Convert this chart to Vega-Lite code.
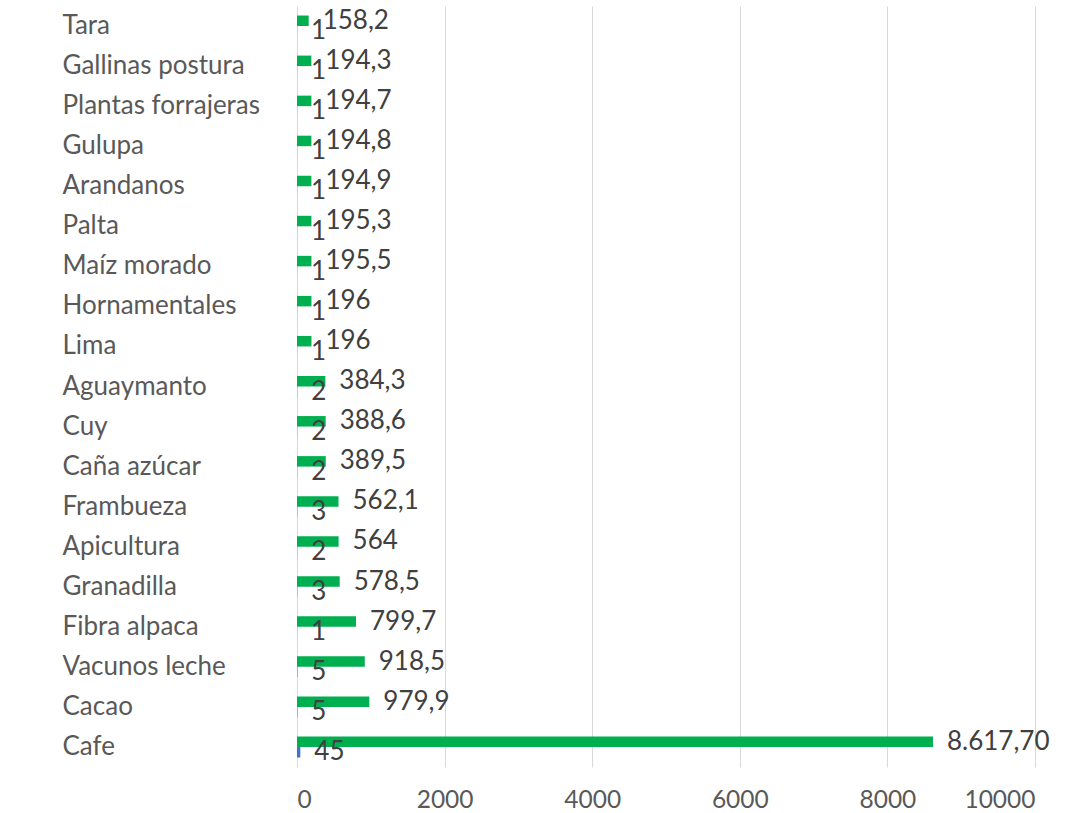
{
  "$schema": "https://vega.github.io/schema/vega-lite/v6.json",
  "width": 738,
  "height": 761,
  "autosize": {"type": "none"},
  "padding": {"left": 297, "top": 6, "right": 39, "bottom": 46},
  "config": {"view": {"stroke": null}, "font": "Lato"},
  "data": {
    "values": [
      {"cultivo": "Tara", "serie": "Monto", "valor": 158.2, "etiqueta": "158,2"},
      {"cultivo": "Tara", "serie": "Proyectos", "valor": 1, "etiqueta": "1"},
      {"cultivo": "Gallinas postura", "serie": "Monto", "valor": 194.3, "etiqueta": "194,3"},
      {"cultivo": "Gallinas postura", "serie": "Proyectos", "valor": 1, "etiqueta": "1"},
      {"cultivo": "Plantas forrajeras", "serie": "Monto", "valor": 194.7, "etiqueta": "194,7"},
      {"cultivo": "Plantas forrajeras", "serie": "Proyectos", "valor": 1, "etiqueta": "1"},
      {"cultivo": "Gulupa", "serie": "Monto", "valor": 194.8, "etiqueta": "194,8"},
      {"cultivo": "Gulupa", "serie": "Proyectos", "valor": 1, "etiqueta": "1"},
      {"cultivo": "Arandanos", "serie": "Monto", "valor": 194.9, "etiqueta": "194,9"},
      {"cultivo": "Arandanos", "serie": "Proyectos", "valor": 1, "etiqueta": "1"},
      {"cultivo": "Palta", "serie": "Monto", "valor": 195.3, "etiqueta": "195,3"},
      {"cultivo": "Palta", "serie": "Proyectos", "valor": 1, "etiqueta": "1"},
      {"cultivo": "Maíz morado", "serie": "Monto", "valor": 195.5, "etiqueta": "195,5"},
      {"cultivo": "Maíz morado", "serie": "Proyectos", "valor": 1, "etiqueta": "1"},
      {"cultivo": "Hornamentales", "serie": "Monto", "valor": 196, "etiqueta": "196"},
      {"cultivo": "Hornamentales", "serie": "Proyectos", "valor": 1, "etiqueta": "1"},
      {"cultivo": "Lima", "serie": "Monto", "valor": 196, "etiqueta": "196"},
      {"cultivo": "Lima", "serie": "Proyectos", "valor": 1, "etiqueta": "1"},
      {"cultivo": "Aguaymanto", "serie": "Monto", "valor": 384.3, "etiqueta": "384,3"},
      {"cultivo": "Aguaymanto", "serie": "Proyectos", "valor": 2, "etiqueta": "2"},
      {"cultivo": "Cuy", "serie": "Monto", "valor": 388.6, "etiqueta": "388,6"},
      {"cultivo": "Cuy", "serie": "Proyectos", "valor": 2, "etiqueta": "2"},
      {"cultivo": "Caña azúcar", "serie": "Monto", "valor": 389.5, "etiqueta": "389,5"},
      {"cultivo": "Caña azúcar", "serie": "Proyectos", "valor": 2, "etiqueta": "2"},
      {"cultivo": "Frambueza", "serie": "Monto", "valor": 562.1, "etiqueta": "562,1"},
      {"cultivo": "Frambueza", "serie": "Proyectos", "valor": 3, "etiqueta": "3"},
      {"cultivo": "Apicultura", "serie": "Monto", "valor": 564, "etiqueta": "564"},
      {"cultivo": "Apicultura", "serie": "Proyectos", "valor": 2, "etiqueta": "2"},
      {"cultivo": "Granadilla", "serie": "Monto", "valor": 578.5, "etiqueta": "578,5"},
      {"cultivo": "Granadilla", "serie": "Proyectos", "valor": 3, "etiqueta": "3"},
      {"cultivo": "Fibra alpaca", "serie": "Monto", "valor": 799.7, "etiqueta": "799,7"},
      {"cultivo": "Fibra alpaca", "serie": "Proyectos", "valor": 1, "etiqueta": "1"},
      {"cultivo": "Vacunos leche", "serie": "Monto", "valor": 918.5, "etiqueta": "918,5"},
      {"cultivo": "Vacunos leche", "serie": "Proyectos", "valor": 5, "etiqueta": "5"},
      {"cultivo": "Cacao", "serie": "Monto", "valor": 979.9, "etiqueta": "979,9"},
      {"cultivo": "Cacao", "serie": "Proyectos", "valor": 5, "etiqueta": "5"},
      {"cultivo": "Cafe", "serie": "Monto", "valor": 8617.7, "etiqueta": "8.617,70"},
      {"cultivo": "Cafe", "serie": "Proyectos", "valor": 45, "etiqueta": "45"}
    ]
  },
  "encoding": {
    "y": {
      "field": "cultivo",
      "type": "nominal",
      "sort": ["Tara", "Gallinas postura", "Plantas forrajeras", "Gulupa", "Arandanos", "Palta", "Maíz morado", "Hornamentales", "Lima", "Aguaymanto", "Cuy", "Caña azúcar", "Frambueza", "Apicultura", "Granadilla", "Fibra alpaca", "Vacunos leche", "Cacao", "Cafe"],
      "scale": {"paddingInner": 0.476, "paddingOuter": 0.238},
      "axis": {
        "title": null,
        "domain": false,
        "ticks": false,
        "tickSize": 0,
        "labelAlign": "left",
        "labelPadding": 235,
        "labelLimit": 300,
        "labelFontSize": 26,
        "labelColor": "#595959",
        "labelFont": "Lato"
      }
    },
    "yOffset": {"field": "serie", "sort": ["Monto", "Proyectos"]},
    "x": {
      "field": "valor",
      "type": "quantitative",
      "scale": {"domain": [0, 10000], "nice": false},
      "axis": {
        "title": null,
        "values": [0, 2000, 4000, 6000, 8000, 10000],
        "format": "d",
        "domain": false,
        "ticks": false,
        "tickSize": 0,
        "labelPadding": 21,
        "labelFontSize": 24.5,
        "labelColor": "#595959",
        "labelFont": "Lato",
        "gridColor": "#d9d9d9",
        "gridWidth": 1
      }
    }
  },
  "layer": [
    {
      "mark": {"type": "bar"},
      "encoding": {
        "color": {
          "field": "serie",
          "scale": {"domain": ["Monto", "Proyectos"], "range": ["#00B050", "#4472C4"]},
          "legend": null
        }
      }
    },
    {
      "mark": {"type": "text", "align": "left", "baseline": "middle", "dx": 14, "fontSize": 26, "color": "#404040", "font": "Lato"},
      "encoding": {"text": {"field": "etiqueta"}}
    }
  ]
}
